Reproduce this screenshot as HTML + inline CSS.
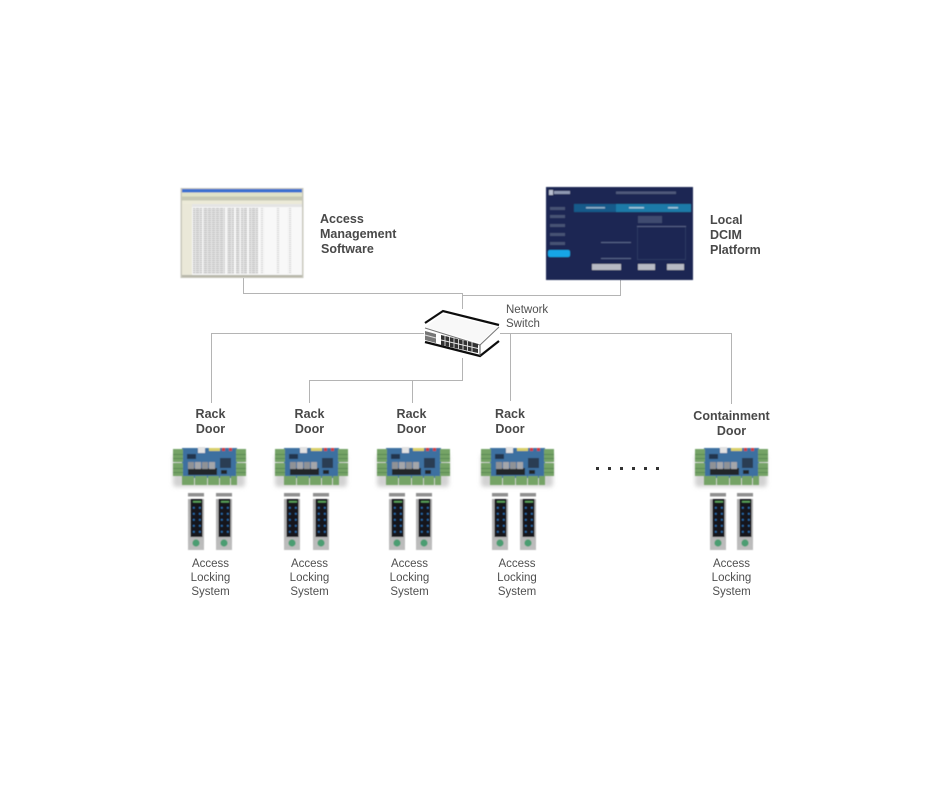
<!DOCTYPE html>
<html lang="en"><head><meta charset="utf-8"><title>Access control topology</title>
<style>
html,body{margin:0;padding:0;background:#fff}
svg{display:block}
text{font-family:"Liberation Sans",sans-serif}
.b{font-weight:bold;font-size:12.5px;fill:#484848}
.d{font-size:12.5px;fill:#484848;font-weight:bold}
.s{font-size:11.5px;fill:#505050}
.c{text-anchor:middle}
.l{fill:none;stroke:#b4b4b4;stroke-width:1}
</style></head><body>
<svg width="940" height="788" viewBox="0 0 940 788" xmlns="http://www.w3.org/2000/svg">
<defs>
<filter id="bl" x="-10%" y="-10%" width="120%" height="120%"><feGaussianBlur stdDeviation="0.5"/></filter>
<filter id="tx" x="-5%" y="-5%" width="110%" height="110%"><feGaussianBlur stdDeviation="0.3"/></filter>
<filter id="sh" x="-20%" y="-50%" width="140%" height="200%"><feGaussianBlur stdDeviation="2.2"/></filter>
<pattern id="rows" width="4" height="2" patternUnits="userSpaceOnUse"><rect width="4" height="2" fill="#e6e6e6"/><rect width="3" height="1" fill="#bdbdbd"/></pattern>
<pattern id="rows2" width="4" height="2" patternUnits="userSpaceOnUse"><rect width="4" height="2" fill="#f6f6f6"/><rect x="1" width="2" height="1" fill="#d2d2d2"/></pattern>
<g id="board">
<rect x="2" y="8" width="72" height="33" rx="3" fill="#d2d2d2" filter="url(#sh)"/>
<g filter="url(#bl)">
<rect x="11" y="2" width="55" height="30" fill="#3d6fa0"/>
<rect x="2" y="3" width="10" height="13" fill="#74a366"/><rect x="2" y="17" width="10" height="13" fill="#74a366"/>
<rect x="65" y="3" width="10" height="13" fill="#74a366"/><rect x="65" y="17" width="10" height="13" fill="#74a366"/>
<g fill="#5b8a52"><rect x="2" y="8" width="10" height="1"/><rect x="2" y="12" width="10" height="1"/><rect x="2" y="22" width="10" height="1"/><rect x="2" y="26" width="10" height="1"/><rect x="65" y="8" width="10" height="1"/><rect x="65" y="12" width="10" height="1"/><rect x="65" y="22" width="10" height="1"/><rect x="65" y="26" width="10" height="1"/></g>
<rect x="11" y="30" width="12" height="9" fill="#74a366"/><rect x="24" y="30" width="12" height="9" fill="#74a366"/><rect x="37" y="30" width="11" height="9" fill="#74a366"/><rect x="49" y="30" width="10" height="9" fill="#74a366"/><rect x="60" y="30" width="6" height="9" fill="#74a366"/>
<rect x="17" y="22" width="29" height="7" fill="#23262c"/>
<rect x="17" y="16" width="6" height="7" fill="#8f9296"/><rect x="24" y="16" width="6" height="7" fill="#a4a6aa"/><rect x="31" y="16" width="6" height="7" fill="#8f9296"/><rect x="38" y="16" width="6" height="7" fill="#a4a6aa"/>
<rect x="49" y="12" width="11" height="10" fill="#2c3c52"/><rect x="50" y="24" width="6" height="4" fill="#23262c"/>
<rect x="27" y="1" width="7" height="6" fill="#e2e2e2"/>
<rect x="16" y="8" width="9" height="5" fill="#21354e"/>
<rect x="38" y="2" width="11" height="3" fill="#d8cf6a"/><rect x="51" y="2" width="3" height="3" fill="#cf3b3b"/><rect x="58" y="2" width="3" height="3" fill="#cf3b3b"/>
</g>
</g>
<linearGradient id="rg" x1="0" y1="0" x2="0" y2="1"><stop offset="0" stop-color="#adadad"/><stop offset="1" stop-color="#bdbdbd"/></linearGradient>
<g id="reader" filter="url(#bl)">
<rect x="0" y="0" width="16" height="3.5" fill="#8f8f8f"/>
<rect x="0" y="6" width="16" height="51" fill="url(#rg)"/>
<rect x="2.5" y="6" width="12" height="38" fill="#14181f"/>
<rect x="5" y="8" width="8" height="1.6" fill="#5ca55c"/>
<g fill="#2a6fb0"><rect x="5" y="14" width="1.7" height="1.7"/><rect x="11" y="14" width="1.7" height="1.7"/><rect x="5" y="20" width="1.7" height="1.7"/><rect x="11" y="20" width="1.7" height="1.7"/><rect x="5" y="26" width="1.7" height="1.7"/><rect x="11" y="26" width="1.7" height="1.7"/><rect x="5" y="32" width="1.7" height="1.7"/><rect x="11" y="32" width="1.7" height="1.7"/><rect x="5" y="38" width="1.7" height="1.7"/><rect x="11" y="38" width="1.7" height="1.7"/></g>
<circle cx="8" cy="50" r="3.600" fill="#4c9d72"/>
</g>
</defs>

<!-- connectors -->
<path class="l" d="M243.500 278V293.500H462.500V311"/>
<path class="l" d="M620.500 280V295.500H462.500"/>
<path class="l" d="M211.500 403V333.500H731.500V404"/>
<path class="l" d="M510.500 333V401"/>
<path class="l" d="M462.500 355V380.500H309.500V403"/>
<path class="l" d="M412.500 380V403"/>

<!-- software window -->
<g filter="url(#bl)">
<rect x="180.500" y="188" width="123" height="90" fill="#c8c7bc"/>
<rect x="182" y="189" width="120" height="3.500" fill="#3b6fd0"/>
<rect x="182" y="192.500" width="120" height="4" fill="#dfe2c8"/>
<rect x="182" y="196.500" width="120" height="4" fill="#c6c8b4"/>
<rect x="182" y="200.500" width="120" height="4" fill="#ecead8"/>
<rect x="182" y="204" width="10" height="71" fill="#eae8d8"/>
<rect x="192" y="204" width="110" height="71" fill="#f8f8f8"/>
<rect x="192" y="204" width="110" height="3" fill="#e4e4e4"/>
<rect x="193" y="208" width="9" height="66" fill="url(#rows)"/>
<rect x="203" y="208" width="22" height="66" fill="url(#rows)"/>
<rect x="227" y="208" width="7" height="66" fill="url(#rows)"/><rect x="236" y="208" width="4" height="66" fill="url(#rows)"/>
<rect x="241" y="208" width="6" height="66" fill="url(#rows)"/><rect x="249" y="208" width="9" height="66" fill="url(#rows)"/>
<rect x="260" y="208" width="5" height="66" fill="url(#rows2)"/><rect x="276" y="208" width="4" height="66" fill="url(#rows2)"/><rect x="287" y="208" width="5" height="66" fill="url(#rows2)"/>
<rect x="182" y="275" width="120" height="2" fill="#b5b5a8"/>
</g>

<!-- DCIM -->
<g filter="url(#bl)">
<rect x="546" y="187" width="147" height="93" fill="#1b2752"/>
<rect x="574" y="204" width="117" height="8" fill="#1f7aa8"/>
<rect x="574" y="204" width="42" height="8" fill="#165a8a"/>
<rect x="586" y="207" width="19" height="1.500" fill="#8fb0c8"/><rect x="629" y="207" width="15" height="1.500" fill="#a0c4d8"/><rect x="668" y="207" width="10" height="1.500" fill="#a0c4d8"/>
<rect x="548" y="250" width="22" height="7" rx="2" fill="#19a5e6"/>
<rect x="549" y="190" width="4" height="5" fill="#b8bfd0"/><rect x="554" y="191" width="16" height="3" fill="#8f98b2"/>
<rect x="616" y="191.500" width="60" height="2.500" fill="#4f5a7c"/>
<rect x="550" y="207" width="15" height="3" fill="#465274"/><rect x="550" y="215" width="15" height="3" fill="#465274"/><rect x="550" y="224" width="15" height="3" fill="#465274"/><rect x="550" y="233" width="15" height="3" fill="#465274"/><rect x="550" y="242" width="15" height="3" fill="#465274"/>
<rect x="638" y="216" width="24" height="7" fill="#3f4b70"/>
<rect x="637.500" y="226.500" width="48" height="33" fill="none" stroke="#2f3b62" stroke-width="1"/>
<rect x="637" y="226" width="49" height="1" fill="#566286"/>
<rect x="601" y="242" width="30" height="1" fill="#5a668a"/><rect x="601" y="258" width="30" height="1" fill="#5a668a"/>
<rect x="592" y="264" width="29" height="6" fill="#b7bac4"/><rect x="638" y="264" width="17" height="6" fill="#b7bac4"/><rect x="667" y="264" width="17" height="6" fill="#b7bac4"/>
</g>

<!-- switch -->
<rect x="424" y="309" width="76" height="49" fill="#fff"/>
<g filter="url(#tx)">
<polygon points="425,323 443,311 499,325 499,341 480,356 425,341" fill="#fff"/>
<polygon points="425,327 443,314 497,327 480,343" fill="#f8f8f8"/>
<polyline points="425,323 443,311 499,325" fill="none" stroke="#111" stroke-width="2.200"/>
<polyline points="425,342 480,356 499,341" fill="none" stroke="#111" stroke-width="2.200"/>
<polyline points="425,328 480,345 499,327" fill="none" stroke="#777" stroke-width="1"/>
<line x1="480" y1="345" x2="480" y2="356" stroke="#555" stroke-width="1"/>
<polygon points="425,331 436,334 436,343 425,340" fill="#777"/>
<line x1="425" y1="335" x2="436" y2="338" stroke="#ddd" stroke-width="1"/>
<polygon points="441,335 478,344 478,353 441,345" fill="#333"/>
<g stroke="#e4e4e4" stroke-width="0.900" fill="none">
<path d="M441 340L478 348.500M445 336V346M449.500 337V347M454 338V348M458.500 339V349M463 340V350M467.500 341V351M472 342V352"/>
</g>
</g>

<!-- text -->
<g filter="url(#tx)">
<text class="d" x="320" y="223">Access</text>
<text class="d" x="320" y="238">Management</text>
<text class="d" x="321" y="253">Software</text>
<text class="d" x="710" y="224">Local</text>
<text class="d" x="710" y="239">DCIM</text>
<text class="d" x="710" y="254">Platform</text>
<text class="s" x="506" y="313">Network</text>
<text class="s" x="506" y="327">Switch</text>

<text class="b c" x="210.500" y="418">Rack</text><text class="b c" x="210.500" y="433">Door</text>
<text class="b c" x="309.500" y="418">Rack</text><text class="b c" x="309.500" y="433">Door</text>
<text class="b c" x="411.500" y="418">Rack</text><text class="b c" x="411.500" y="433">Door</text>
<text class="b c" x="510" y="418">Rack</text><text class="b c" x="510" y="433">Door</text>
<text class="b c" x="731.500" y="420">Containment</text><text class="b c" x="731.500" y="435">Door</text>

<text class="s c" x="210.500" y="567">Access</text><text class="s c" x="210.500" y="581">Locking</text><text class="s c" x="210.500" y="595">System</text>
<text class="s c" x="309.500" y="567">Access</text><text class="s c" x="309.500" y="581">Locking</text><text class="s c" x="309.500" y="595">System</text>
<text class="s c" x="409.500" y="567">Access</text><text class="s c" x="409.500" y="581">Locking</text><text class="s c" x="409.500" y="595">System</text>
<text class="s c" x="517" y="567">Access</text><text class="s c" x="517" y="581">Locking</text><text class="s c" x="517" y="595">System</text>
<text class="s c" x="731.500" y="567">Access</text><text class="s c" x="731.500" y="581">Locking</text><text class="s c" x="731.500" y="595">System</text>
</g>

<use href="#board" x="171" y="446"/><use href="#board" x="273" y="446"/><use href="#board" x="375" y="446"/><use href="#board" x="479" y="446"/><use href="#board" x="693" y="446"/>

<use href="#reader" x="188" y="493"/><use href="#reader" x="216" y="493"/>
<use href="#reader" x="284" y="493"/><use href="#reader" x="313" y="493"/>
<use href="#reader" x="389" y="493"/><use href="#reader" x="416" y="493"/>
<use href="#reader" x="492" y="493"/><use href="#reader" x="520" y="493"/>
<use href="#reader" x="710" y="493"/><use href="#reader" x="737" y="493"/>

<g fill="#333" filter="url(#tx)"><rect x="596" y="467" width="3" height="3"/><rect x="608" y="467" width="3" height="3"/><rect x="620" y="467" width="3" height="3"/><rect x="632" y="467" width="3" height="3"/><rect x="644" y="467" width="3" height="3"/><rect x="656" y="467" width="3" height="3"/></g>
</svg>
</body></html>
